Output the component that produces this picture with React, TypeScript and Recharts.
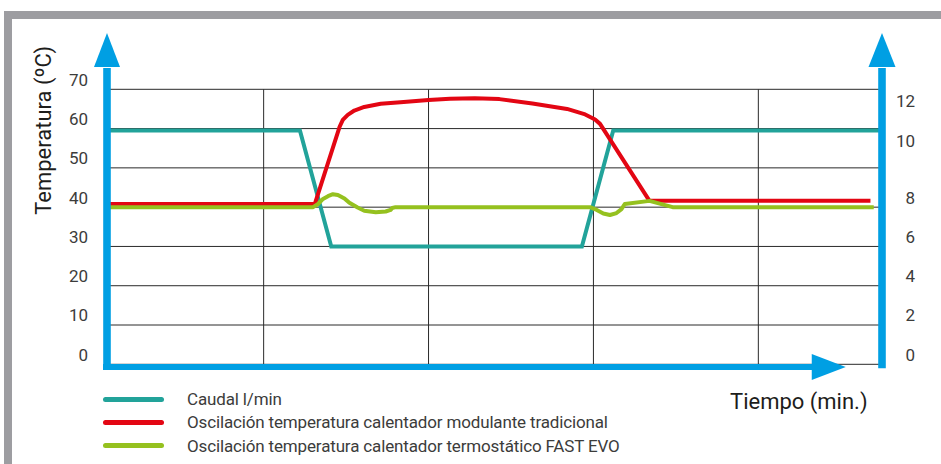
import React from 'react';
import { LineChart, Line, XAxis, YAxis, CartesianGrid, ReferenceLine, Legend } from 'recharts';

const FONT = 'Roboto, "Noto Sans", sans-serif';
const TEXT_COLOR = '#3c3c3b';
const BLUE = '#009fe3';
const FRAME = '#9d9da1';

// Time (min) and values of each series
const caudalTime = [0.5, 12.2, 14.1, 29.3, 31.2, 47.5];
const caudalFlow = [11.9, 11.9, 6.0, 6.0, 11.9, 11.9];

const modulanteTime = [0.5, 13.1, 14.6, 14.8, 15.1, 15.5, 16.1, 17.1, 18.3, 20.0, 21.3, 22.8, 24.3, 26.3, 28.4, 29.5, 30.1, 30.4, 33.4, 46.8];
const modulanteTemp = [40.8, 40.8, 60.4, 62.2, 63.5, 64.6, 65.5, 66.3, 66.7, 67.3, 67.6, 67.7, 67.5, 66.4, 65.0, 63.6, 62.3, 61.2, 41.6, 41.6];

const fastTime = [0.5, 13.0, 13.3, 13.6, 13.9, 14.2, 14.5, 14.9, 15.2, 15.7, 16.1, 16.8, 17.4, 17.7, 17.8, 18.0, 29.8, 30.2, 30.6, 31.0, 31.4, 31.7, 31.9, 33.4, 34.8, 47.0];
const fastTemp = [40, 40, 40.8, 42.1, 42.8, 43.3, 43.1, 42.2, 41.1, 39.9, 39.1, 38.7, 38.9, 39.3, 39.8, 40, 40, 39.3, 38.4, 38.0, 38.5, 39.5, 40.8, 41.6, 40, 40];

const seriesNames = [
  'Caudal l/min',
  'Oscilación temperatura calentador modulante tradicional',
  'Oscilación temperatura calentador termostático FAST EVO',
];
const seriesColors = ['#22a39a', '#e30613', '#95c11f'];

const tempTicks = [0, 10, 20, 30, 40, 50, 60, 70];
const flowTickValues = [0, 2, 4, 6, 8, 10.9, 12.9];
const flowTickLabels = ['0', '2', '4', '6', '8', '10', '12'];
const timeGridTicks = [10, 20, 30, 40];
const timeDomain = [0.5, 47.5];
const tempDomain = [0, 70];
const flowDomain = [0, 14];
const timeArrowEnd = 45.3;

const yTitle = 'Temperatura (ºC)';
const xTitle = 'Tiempo (min.)';

const toPoints = (xs: number[], ys: number[]) => xs.map((t, i) => ({ t, v: ys[i] }));
const caudalData = toPoints(caudalTime, caudalFlow);
const modulanteData = toPoints(modulanteTime, modulanteTemp);
const fastData = toPoints(fastTime, fastTemp);

const EmptyTick = () => <g />;

const LeftTick = (props: any) => {
  const { x, y, payload } = props;
  return (
    <text x={x} y={y - 9.6} textAnchor="end" dominantBaseline="central" fontSize={17} fill={TEXT_COLOR} fontFamily={FONT}>
      {payload.value}
    </text>
  );
};

const RightTick = (props: any) => {
  const { x, y, payload } = props;
  const idx = flowTickValues.indexOf(payload.value);
  return (
    <text x={x} y={y - 9.6} textAnchor="end" dominantBaseline="central" fontSize={17} fill={TEXT_COLOR} fontFamily={FONT}>
      {flowTickLabels[idx]}
    </text>
  );
};

const YTitle = (props: any) => {
  const vb = props.viewBox || { x: 0, y: 0 };
  const x = vb.x + 51.5;
  const y = vb.y + 41;
  return (
    <text x={x} y={y} transform={`rotate(-90, ${x}, ${y})`} textAnchor="middle" fontSize={22} fill="#1d1d1b" fontFamily={FONT}>
      {yTitle}
    </text>
  );
};

const XTitle = (props: any) => {
  const vb = props.viewBox || { x: 0, y: 0 };
  return (
    <text x={vb.x + 623} y={vb.y + 45} textAnchor="start" fontSize={22} fill="#1d1d1b" fontFamily={FONT}>
      {xTitle}
    </text>
  );
};

const VerticalAxisArrow = (props: any) => {
  const { x1, y1, y2, bottomExt, half } = props;
  const x = x1;
  const yBottom = Math.max(y1, y2) + bottomExt;
  const base = Math.min(y1, y2) - 22.3;
  const tip = base - 34;
  return (
    <g>
      <line x1={x} y1={yBottom} x2={x} y2={base + 1} stroke={BLUE} strokeWidth={7.6} />
      <polygon points={`${x - half},${base} ${x + half},${base} ${x},${tip}`} fill={BLUE} />
    </g>
  );
};

const HorizontalAxisArrow = (props: any) => {
  const { x1, y1, x2 } = props;
  const y = y1 + 2.7;
  const base = x2 - 34;
  return (
    <g>
      <line x1={x1 - 4} y1={y} x2={base + 1} y2={y} stroke={BLUE} strokeWidth={6} />
      <polygon points={`${base},${y - 13} ${base},${y + 13} ${x2},${y}`} fill={BLUE} />
    </g>
  );
};

const LegendContent = (props: any) => {
  const payload = (props.payload || []).slice().sort(
    (a: any, b: any) => seriesNames.indexOf(a.value) - seriesNames.indexOf(b.value)
  );
  return (
    <div style={{ fontFamily: FONT, fontSize: 17, color: TEXT_COLOR, letterSpacing: -0.15 }}>
      {payload.map((entry: any) => (
        <div key={entry.value} style={{ display: 'flex', alignItems: 'center', height: 23.3, whiteSpace: 'nowrap' }}>
          <span style={{ display: 'inline-block', width: 61, height: 5, borderRadius: 2.5, background: entry.color, marginRight: 23 }} />
          <span>{entry.value}</span>
        </div>
      ))}
    </div>
  );
};

export default function App() {
  return (
    <div style={{ position: 'absolute', left: 0, top: 0, width: 941, height: 464, background: '#ffffff', overflow: 'hidden' }}>
      <div
        style={{
          position: 'absolute',
          left: 4,
          top: 11,
          width: 937,
          height: 453,
          boxSizing: 'border-box',
          borderTop: `8px solid ${FRAME}`,
          borderLeft: `8px solid ${FRAME}`,
        }}
      />
      <div style={{ position: 'absolute', left: 0, top: 0 }}>
        <LineChart width={941} height={464} margin={{ top: 89.3, right: 0, bottom: 98.7, left: 0 }}>
          <CartesianGrid yAxisId="temp" stroke="#2a2a2a" strokeWidth={1} vertical horizontal />
          <XAxis
            dataKey="t"
            type="number"
            domain={timeDomain}
            ticks={timeGridTicks}
            interval={0}
            allowDataOverflow
            height={1}
            axisLine={false}
            tickLine={false}
            tickSize={0}
            tick={EmptyTick}
            label={XTitle}
          />
          <YAxis
            yAxisId="temp"
            orientation="left"
            width={107}
            type="number"
            domain={tempDomain}
            ticks={tempTicks}
            interval={0}
            axisLine={false}
            tickLine={false}
            tickSize={0}
            tickMargin={19}
            tick={LeftTick}
            label={YTitle}
          />
          <YAxis
            yAxisId="flow"
            orientation="right"
            width={59}
            type="number"
            domain={flowDomain}
            ticks={flowTickValues}
            interval={0}
            axisLine={false}
            tickLine={false}
            tickSize={0}
            tickMargin={33}
            tick={RightTick}
          />
          <Line
            data={caudalData}
            dataKey="v"
            yAxisId="flow"
            name={seriesNames[0]}
            type="linear"
            stroke={seriesColors[0]}
            strokeWidth={4}
            dot={false}
            activeDot={false}
            isAnimationActive={false}
          />
          <Line
            data={modulanteData}
            dataKey="v"
            yAxisId="temp"
            name={seriesNames[1]}
            type="linear"
            stroke={seriesColors[1]}
            strokeWidth={4}
            strokeLinejoin="round"
            dot={false}
            activeDot={false}
            isAnimationActive={false}
          />
          <Line
            data={fastData}
            dataKey="v"
            yAxisId="temp"
            name={seriesNames[2]}
            type="linear"
            stroke={seriesColors[2]}
            strokeWidth={4}
            strokeLinejoin="round"
            dot={false}
            activeDot={false}
            isAnimationActive={false}
          />
          <ReferenceLine
            yAxisId="temp"
            ifOverflow="visible"
            segment={[{ x: timeDomain[0], y: tempDomain[0] }, { x: timeDomain[0], y: tempDomain[1] }]}
            shape={(p: any) => <VerticalAxisArrow {...p} bottomExt={5.7} half={13} />}
          />
          <ReferenceLine
            yAxisId="temp"
            ifOverflow="visible"
            segment={[{ x: timeDomain[1], y: tempDomain[0] }, { x: timeDomain[1], y: tempDomain[1] }]}
            shape={(p: any) => <VerticalAxisArrow {...p} bottomExt={4} half={13.5} />}
          />
          <ReferenceLine
            yAxisId="temp"
            ifOverflow="visible"
            segment={[{ x: timeDomain[0], y: tempDomain[0] }, { x: timeArrowEnd, y: tempDomain[0] }]}
            shape={(p: any) => <HorizontalAxisArrow {...p} />}
          />
          <Legend
            layout="vertical"
            align="center"
            verticalAlign="middle"
            wrapperStyle={{ left: 103, top: 387.5, width: 640 }}
            content={LegendContent}
          />
        </LineChart>
      </div>
    </div>
  );
}
